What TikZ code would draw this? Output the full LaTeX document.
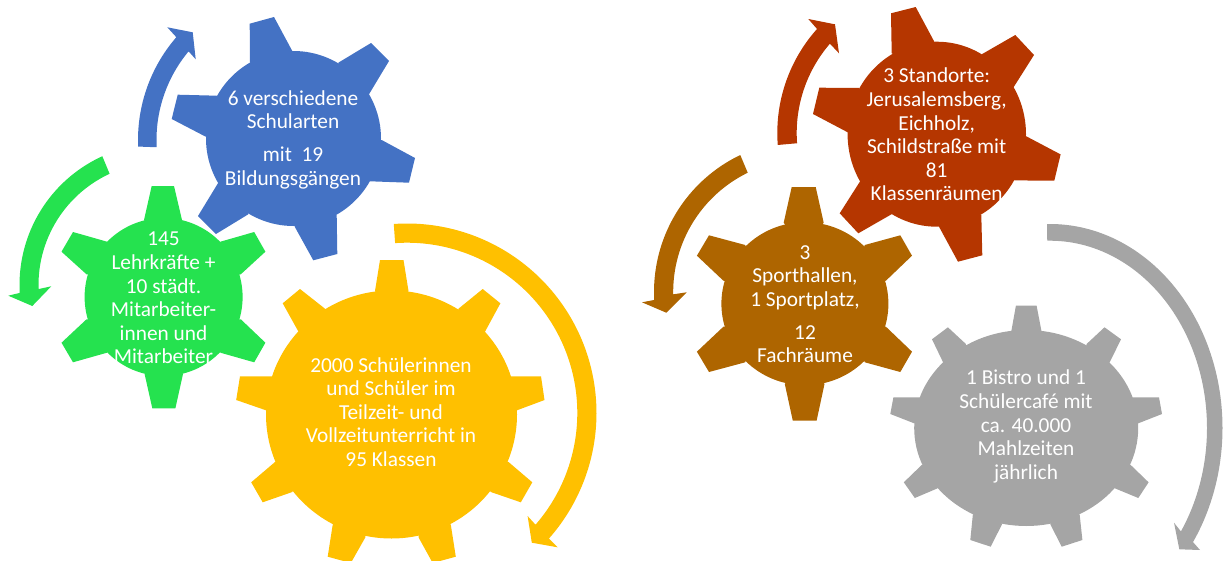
\documentclass[tikz,border=0pt]{standalone}
\usepackage{fontspec}
\setmainfont{Carlito}
\definecolor{gblue}{HTML}{4472C4}
\definecolor{ggreen}{HTML}{25E24F}
\definecolor{gyellow}{HTML}{FFC000}
\definecolor{gred}{HTML}{B53600}
\definecolor{gbrown}{HTML}{AE6500}
\definecolor{ggray}{HTML}{A5A5A5}
\tikzset{
  gearlabel/.style={text=white,align=center,inner sep=0pt,font=\fontsize{18.2pt}{20.1pt}\selectfont},
}
% block arc arrow: colour, cx, cy, outer radius, inner radius, outer domain, inner domain, head points
\newcommand{\blockarc}[8]{%
  \fill[#1] plot[domain=#6,samples=60,smooth] ({#2+#4*cos(\x)},{#3+#4*sin(\x)}) -- #8 -- plot[domain=#7,samples=60,smooth] ({#2+#5*cos(\x)},{#3+#5*sin(\x)}) -- cycle;}
\begin{document}
\begin{tikzpicture}[x=0.03cm,y=-0.03cm]
\useasboundingbox (0,0) rectangle (1227,561);
\clip (0,0) rectangle (1227,561);
% ---- blue gear
\fill[gblue] (293.5,138.5) ellipse [x radius=87.5*0.03cm,y radius=87.5*0.03cm];
\fill[gblue] (250,62.7)--(249.7,23.7)--(274,17)--(292.3,51)--(293,70)--cycle
 (338.3,62.7)--(371,43)--(389,61)--(369,94.3)--(340,100)--cycle
 (381.7,140)--(415,158)--(409,182.7)--(370,181.3)--(350,150)--cycle
 (336.7,215)--(337.3,254)--(313.3,260.3)--(294.7,226.7)--(300,200)--cycle
 (248.3,214.3)--(216,234)--(198,216)--(218.3,182.7)--(250,180)--cycle
 (216.7,95.7)--(177.7,94.7)--(171.7,119)--(205.7,136.7)--(240,130)--cycle;
% ---- green gear
\fill[ggreen] (163.6,297) ellipse [x radius=79*0.03cm,y radius=79*0.03cm];
\fill[ggreen] (144,220)--(151.7,186)--(174,186)--(182,220)--(163,240)--cycle
 (220.4,241.7)--(254.2,232)--(265.4,251.7)--(240.8,274.3)--(210,280)--cycle
 (240.8,319.3)--(265.4,342.7)--(254.2,362.3)--(220.4,352.7)--(210,320)--cycle
 (183,374)--(175.4,408.3)--(152.3,408.3)--(144.6,374)--(163,350)--cycle
 (107,352.7)--(73,362.3)--(61.5,342.7)--(86.5,319.3)--(115,320)--cycle
 (86.5,274.3)--(61.5,251.7)--(73,232)--(107,241.7)--(115,275)--cycle;
% ---- yellow gear
\fill[gyellow] (391.5,414.5) ellipse [x radius=125.5*0.03cm,y radius=124*0.03cm];
\fill[gyellow] (375,291)--(380,260)--(403.5,260)--(408.5,291)--(391,320)--cycle
 (458.5,308.7)--(482.7,289)--(500.4,303.3)--(485,331.7)--(450,350)--cycle
 (511,376.3)--(541,376.3)--(544.5,400)--(517,410.3)--(480,400)--cycle
 (508.5,462)--(532.3,482.3)--(520.8,502.3)--(490.8,492)--(470,460)--cycle
 (450.8,524.7)--(455.8,556.7)--(432.7,563)--(418.5,537.3)--(420,500)--cycle
 (365.4,537.3)--(350.8,563)--(327.7,556.7)--(332.7,524.7)--(360,500)--cycle
 (292.3,492)--(262.7,502.3)--(251.2,482.3)--(275,462)--(310,460)--cycle
 (266,410.3)--(236.2,400)--(240,376.3)--(272.3,376.3)--(300,400)--cycle
 (298.5,331.7)--(282.7,303.3)--(300,289)--(325,308.7)--(330,350)--cycle;
% ---- red gear
\fill[gred] (936.8,134.2) ellipse [x radius=89.2*0.03cm,y radius=92.5*0.03cm];
\fill[gred] (891.7,53.3)--(891,13.3)--(915.7,7)--(934.3,41.7)--(930,70)--cycle
 (981.7,54.3)--(1015.3,35)--(1034,55)--(1013.3,87.7)--(980,100)--cycle
 (1025.9,136.1)--(1060.6,154.4)--(1054.3,180.7)--(1014.6,180.4)--(990,150)--cycle
 (981.3,215)--(982.3,255.3)--(958,261.7)--(939,226.7)--(945,200)--cycle
 (892,214)--(858.3,233.3)--(839.7,213.3)--(860.3,181)--(890,180)--cycle
 (859,88)--(819.3,87.7)--(813,114)--(847.7,132.3)--(880,125)--cycle;
% ---- brown gear
\fill[gbrown] (804.9,303.7) ellipse [x radius=83.5*0.03cm,y radius=81.5*0.03cm];
\fill[gbrown] (783.7,222.7)--(791.7,187)--(815.7,187)--(823.7,222.7)--(804,250)--cycle
 (864.8,245)--(900.3,235.3)--(912,255.7)--(885.9,280.7)--(850,285)--cycle
 (885.9,326.7)--(912,351.7)--(900.3,372)--(864.8,362.3)--(850,325)--cycle
 (824.5,384)--(816.6,420.7)--(792.8,420.7)--(784.8,384)--(804,360)--cycle
 (745.2,362.3)--(709,372)--(696.9,351.7)--(723.4,326.7)--(760,325)--cycle
 (723.4,280.7)--(696.9,255.7)--(709,235.3)--(745.2,245)--(760,285)--cycle;
% ---- gray gear
\fill[ggray] (1026.2,428) ellipse [x radius=112*0.03cm,y radius=98*0.03cm];
\fill[ggray] (1011.4,330.7)--(1015.9,305.7)--(1036.6,305.7)--(1041.4,330.7)--(1026,350)--cycle
 (1086.6,344)--(1104.5,327.3)--(1121,339.3)--(1110,361.7)--(1080,380)--cycle
 (1133,397.3)--(1159,397.3)--(1162,414)--(1138.3,423.3)--(1100,410)--cycle
 (1130.7,465)--(1148.6,482.3)--(1138.3,498)--(1114.8,488.3)--(1100,460)--cycle
 (1079.7,515)--(1082.4,540)--(1061.7,546.7)--(1050.3,524.3)--(1060,490)--cycle
 (1002,524.3)--(990.7,546.7)--(970.3,540)--(972.8,515)--(990,490)--cycle
 (937.6,488.3)--(914.8,498)--(903.8,482.3)--(921.7,465)--(950,460)--cycle
 (914.1,423.3)--(890.3,414)--(893.4,397.3)--(919.3,397.3)--(950,410)--cycle
 (942.8,361.7)--(932,339.3)--(947.9,327.3)--(965.9,344)--(970,380)--cycle;
% ---- arrows
\blockarc{gblue}{295}{140}{157}{138.5}{177.6:220.9}{219.8:177}{(167.3,27.3) -- (192.7,32.3) -- (195.7,59.3)}
\blockarc{ggreen}{161}{285}{141.5}{122.5}{245.5:176.8}{178.1:245.2}{(8.3,295.7) -- (32.3,306) -- (51.3,286.3)}
\blockarc{gyellow}{407}{413}{189.5}{170.3}{-94:41.5}{41:-94}{(557.6,547.3) -- (531.8,542.7) -- (527.6,516)}
\blockarc{gred}{933.4}{133}{156.1}{136.7}{175.6:221.8}{220.8:175.7}{(808.3,19) -- (835,24.3) -- (839,53.3)}
\blockarc{gbrown}{805.9}{292}{151.9}{132.7}{244.4:177}{179:244}{(642,302.3) -- (666.3,312.7) -- (686.7,292.3)}
\fill[ggray] plot[domain=-91:34,samples=80,smooth] ({1050+172.5*cos(\x)},{428+204*sin(\x)}) -- (1200,550) -- (1179.3,549.3) -- (1174,522.7) -- plot[domain=33.5:-91,samples=80,smooth] ({1050+157*cos(\x)},{428+187.3*sin(\x)}) -- cycle;
% ---- labels
\node[gearlabel] (blue) at (293,139.5) {6 verschiedene\\Schularten\\[8pt]mit\ \ 19\\Bildungsgängen};
\node[gearlabel] (green) at (163.5,298) {145\\Lehrkräfte +\\10 städt.\\Mitarbeiter-\\innen und\\Mitarbeiter};
\node[gearlabel] (yellow) at (391,412) {2000 Schülerinnen\\und Schüler im\\Teilzeit- und\\Vollzeitunterricht in\\95 Klassen};
\node[gearlabel] (red) at (936.7,134.5) {3 Standorte:\\Jerusalemsberg,\\Eichholz,\\Schildstraße mit\\81\\Klassenräumen};
\node[gearlabel] (brown) at (805,304) {3\\Sporthallen,\\1 Sportplatz,\\[8pt]12\\Fachräume};
\node[gearlabel] (gray) at (1026,426.5) {1 Bistro und 1\\Schülercafé mit\\ca. 40.000\\Mahlzeiten\\jährlich};
\end{tikzpicture}
\end{document}
